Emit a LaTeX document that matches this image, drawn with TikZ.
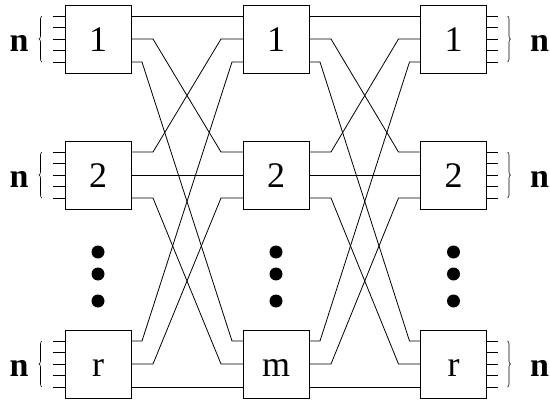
\documentclass[tikz,border=0pt]{standalone}
\usepackage{fontspec}
\setmainfont{Liberation Serif}
\usetikzlibrary{calc,decorations.pathreplacing}

\begin{document}
\begin{tikzpicture}[
    x=1pt, y=-1pt,
    every node/.style={inner sep=0pt, outer sep=0pt},
    box/.style={rectangle, draw=black, line width=0.9pt, minimum width=66pt, minimum height=68pt,
                font=\fontsize{36}{40}\selectfont, text height=25pt, text depth=0pt},
    wire/.style={black, line width=0.8pt},
    brc/.style={decorate, decoration={brace, amplitude=3pt}, line width=0.6pt},
    lbl/.style={font=\fontsize{34}{40}\selectfont\bfseries}
]
\useasboundingbox (0,0) rectangle (550,404);
% three stages of switches
\node[box] (L1) at (98, 39)    {1};
\node[box] (L2) at (98, 175)   {2};
\node[box] (Lr) at (98, 364)   {r};
\node[box] (M1) at (276, 39)   {1};
\node[box] (M2) at (276, 175)  {2};
\node[box] (Mm) at (276, 364)  {m};
\node[box] (R1) at (453.5, 39) {1};
\node[box] (R2) at (453.5, 175){2};
\node[box] (Rr) at (453.5, 364){r};
% n lines in and out
\foreach \n in {L1,L2,Lr} {
  \foreach \o in {-23,-11.5,0,11.5,23}
    \draw[wire] ($(\n.west)+(-12,\o)$) -- ++(12,0);
  \draw[brc] ($(\n.west)+(-23,23)$) -- ($(\n.west)+(-23,-23)$);
  \node[lbl] (n\n) at ($(\n.west)+(-46,4)$) {n};
}
\foreach \n in {R1,R2,Rr} {
  \foreach \o in {-23,-11.5,0,11.5,23}
    \draw[wire] ($(\n.east)+(0,\o)$) -- ++(11,0);
  \draw[brc] ($(\n.east)+(21,-23)$) -- ($(\n.east)+(21,23)$);
  \node[lbl] (n\n) at ($(\n.east)+(53,4)$) {n};
}
% links between stages
\foreach \s/\a/\d/\b/\k in {L1/-23/M1/-23/0, L1/0/M2/-23/22, L1/23/Mm/-23/11,
                            L2/-23/M1/0/22, L2/0/M2/0/0, L2/23/Mm/0/22,
                            Lr/-23/M1/23/11, Lr/0/M2/23/22, Lr/23/Mm/23/0,
                            M1/-23/R1/-23/0, M1/0/R2/-23/22, M1/23/Rr/-23/11,
                            M2/-23/R1/0/22, M2/0/R2/0/0, M2/23/Rr/0/22,
                            Mm/-23/R1/23/11, Mm/0/R2/23/22, Mm/23/Rr/23/0}
  \draw[wire] ($(\s.east)+(0,\a)$) -- ++(\k,0) -- ($(\d.west)+(-\k,\b)$) -- ++(\k,0);
% vertical dots
\foreach \x in {98,276,453.5}
  \foreach \y in {252,274,301}
    \fill (\x,\y) circle (6.5pt);
\end{tikzpicture}
\end{document}
